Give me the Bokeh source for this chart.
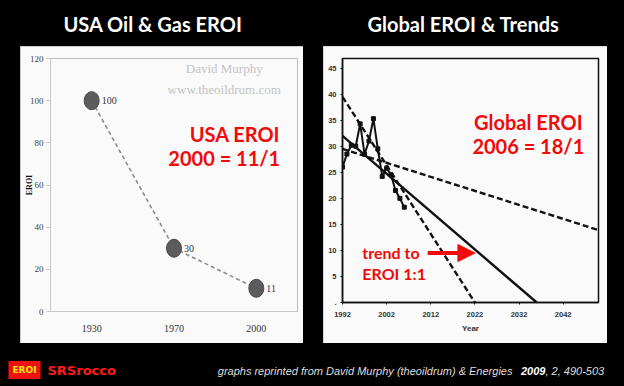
from bokeh.plotting import figure
from bokeh.layouts import column, row
from bokeh.models import Range1d, FactorRange, FixedTicker, Label, Arrow, NormalHead, Spacer
from bokeh.embed import file_html
from bokeh.resources import INLINE
from bokeh.core.properties import value

# ---------------- data ----------------
usa_years = ["1930", "1970", "2000"]
usa_eroi = [100, 30, 11]
usa_yticks = [0, 20, 40, 60, 80, 100, 120]

global_years = [1992, 1993, 1994, 1995, 1996, 1997, 1998, 1999, 2000, 2001, 2002, 2003, 2004, 2005, 2006]
global_eroi = [26.0, 28.5, 30.2, 30.0, 34.3, 28.5, 31.0, 35.3, 29.5, 24.2, 25.8, 24.5, 21.5, 20.0, 18.3]

trend_solid_x = [1992, 2036]
trend_solid_y = [32.0, 0.0]
trend_steep_x = [1992, 2022]
trend_steep_y = [39.5, 0.0]
trend_shallow_x = [1992, 2050]
trend_shallow_y = [29.5, 13.9]

global_xticks = [1992, 2002, 2012, 2022, 2032, 2042]
global_yticks = [0, 5, 10, 15, 20, 25, 30, 35, 40, 45]

RED = "#f00a0a"
PANEL = "#fafafa"

# ---------------- header ----------------
def blank(w, h):
    f = figure(width=w, height=h, x_range=Range1d(0, w), y_range=Range1d(0, h),
               toolbar_location=None, output_backend="svg",
               x_axis_location=None, y_axis_location=None, min_border=0,
               background_fill_color="black", border_fill_color="black",
               outline_line_color=None)
    f.xgrid.visible = False
    f.ygrid.visible = False
    return f

header = blank(624, 46)
for xc, t in [(152.5, "USA Oil & Gas EROI"), (463, "Global EROI & Trends")]:
    header.add_layout(Label(x=xc, y=22.5, text=t, text_align="center", text_baseline="middle",
                            text_font="Lato", text_font_style="bold", text_font_size="20px",
                            text_color="white"))

# ---------------- left chart ----------------
left = figure(width=283, height=297, frame_width=247, frame_height=253,
              x_range=FactorRange(*usa_years), y_range=Range1d(0, 120),
              toolbar_location=None, output_backend="svg",
              min_border_left=30, min_border_right=6, min_border_top=12, min_border_bottom=32,
              background_fill_color=PANEL, border_fill_color=PANEL, outline_line_color=None,
              styles={"outline": "1px solid #bdbdbd", "outline-offset": "-1px"})
left.xgrid.visible = False
left.ygrid.visible = False
left.xaxis.axis_line_color = "#c8c8c8"
left.xaxis.major_tick_line_color = None
left.xaxis.major_tick_out = 0
left.xaxis.major_tick_in = 0
left.xaxis.major_label_text_font = "Liberation Serif"
left.xaxis.major_label_text_font_size = "10px"
left.xaxis.major_label_text_color = "#333333"
left.xaxis.major_label_standoff = 13
left.yaxis.ticker = FixedTicker(ticks=usa_yticks)
left.yaxis.axis_line_color = "#c8c8c8"
left.yaxis.major_tick_line_color = "#c8c8c8"
left.yaxis.major_tick_out = 4
left.yaxis.major_tick_in = 0
left.yaxis.minor_tick_line_color = None
left.yaxis.major_label_text_font = "Liberation Serif"
left.yaxis.major_label_text_font_size = "9px"
left.yaxis.major_label_text_color = "#444444"
left.yaxis.major_label_standoff = 3
left.yaxis.axis_label = "EROI"
left.yaxis.axis_label_text_font = "Liberation Serif"
left.yaxis.axis_label_text_font_style = "bold"
left.yaxis.axis_label_text_font_size = "8px"
left.yaxis.axis_label_text_color = "#111111"
left.yaxis.axis_label_standoff = -7

left.line(x=usa_years, y=usa_eroi, line_dash="4 3", line_color="#8c8c8c", line_width=1.6)
left.ellipse(x=usa_years, y=usa_eroi, width=15, height=18, width_units="screen", height_units="screen",
             fill_color="#5c5c5c", line_color="#474747", line_width=1)
left.text(x=usa_years, y=usa_eroi, text=[str(v) for v in usa_eroi], x_offset=10,
          text_baseline="middle", text_font=value("Liberation Serif"), text_font_size="10px",
          text_color="#333333")

for y, t in [(115.3, "David Murphy"), (105.3, "www.theoildrum.com")]:
    left.add_layout(Label(x=2.11, y=y, text=t, text_align="center", text_baseline="middle",
                          text_font="Liberation Serif", text_font_size="13px", text_color="#c4c4c4"))
for y, t in [(84.4, "USA EROI"), (72.6, "2000 = 11/1")]:
    left.add_layout(Label(x=2.79, y=y, text=t, text_align="right", text_baseline="middle",
                          text_font="Lato", text_font_style="bold", text_font_size="20px",
                          text_color=RED))

# ---------------- right chart ----------------
right = figure(width=284, height=297, x_range=Range1d(1992, 2050), y_range=Range1d(0, 46.85),
               toolbar_location=None, output_backend="svg",
               min_border_left=19, min_border_right=9, min_border_top=3, min_border_bottom=41,
               background_fill_color=PANEL, border_fill_color=PANEL,
               outline_line_color="#111111", outline_line_width=1.5,
               styles={"outline": "1px solid #d0d0d0", "outline-offset": "-1px"})
right.xgrid.visible = False
right.ygrid.visible = False
for ax in (right.xaxis, right.yaxis):
    ax.axis_line_color = "#111111"
    ax.axis_line_width = 1.5
    ax.major_tick_line_color = "#111111"
    ax.major_tick_out = 2
    ax.major_tick_in = 0
    ax.minor_tick_line_color = None
    ax.major_label_text_font = "Liberation Sans"
    ax.major_label_text_font_style = "bold"
    ax.major_label_text_font_size = "7.5px"
    ax.major_label_text_color = "#333333"
right.xaxis.ticker = FixedTicker(ticks=global_xticks)
right.yaxis.ticker = FixedTicker(ticks=global_yticks)
right.yaxis.major_label_overrides = {0: "."}
right.xaxis.major_label_standoff = 7
right.yaxis.major_label_standoff = 4
right.xaxis.axis_label = "Year"
right.xaxis.axis_label_text_font = "Liberation Sans"
right.xaxis.axis_label_text_font_style = "bold"
right.xaxis.axis_label_text_font_size = "8px"
right.xaxis.axis_label_text_color = "#333333"
right.xaxis.axis_label_standoff = 4

right.line(x=trend_shallow_x, y=trend_shallow_y, line_color="#111111", line_width=2.4, line_dash="6 3")
right.line(x=trend_steep_x, y=trend_steep_y, line_color="#111111", line_width=2.4, line_dash="6 3")
right.line(x=trend_solid_x, y=trend_solid_y, line_color="#111111", line_width=2.4)
right.line(x=global_years, y=global_eroi, line_color="#111111", line_width=2)
right.scatter(x=global_years, y=global_eroi, marker="square", size=4, fill_color="#111111", line_color="#111111")

for y, t in [(34.6, "Global EROI"), (30.0, "2006 = 18/1")]:
    right.add_layout(Label(x=2034.1, y=y, text=t, text_align="center", text_baseline="middle",
                           text_font="Lato", text_font_style="bold", text_font_size="20px",
                           text_color=RED))
for y, t in [(9.6, "trend to"), (5.6, "EROI 1:1")]:
    right.add_layout(Label(x=1996.5, y=y, text=t, text_align="left", text_baseline="middle",
                           text_font="Lato", text_font_style="bold", text_font_size="16px",
                           text_color=RED))
right.add_layout(Arrow(x_start=2011.3, y_start=9.5, x_end=2022.0, y_end=9.5,
                       line_color=RED, line_width=4,
                       end=NormalHead(size=17, fill_color=RED, line_color=RED)))

# ---------------- footer ----------------
footer = blank(624, 43)
footer.add_layout(Label(x=24, y=16.5, text="EROI", text_align="center", text_baseline="middle",
                        text_font="DejaVu Sans", text_font_style="bold", text_font_size="9px",
                        text_color="#ffe800", background_fill_color="#ee1111",
                        padding=4))
footer.add_layout(Label(x=47, y=16.5, text="SRSrocco", text_align="left", text_baseline="middle",
                        text_font="DejaVu Sans", text_font_style="bold", text_font_size="13px",
                        text_color="#ff1a1a"))
footer.add_layout(Label(x=515, y=16, text="graphs reprinted from  David Murphy (theoildrum) & Energies",
                        text_align="right", text_baseline="middle", text_font="Liberation Sans",
                        text_font_style="italic", text_font_size="11px", text_color="#dddddd"))
footer.add_layout(Label(x=520.5, y=16, text="2009", text_align="left", text_baseline="middle",
                        text_font="Liberation Sans", text_font_style="bold italic",
                        text_font_size="11px", text_color="#ffffff"))
footer.add_layout(Label(x=545, y=16, text=", 2, 490-503", text_align="left", text_baseline="middle",
                        text_font="Liberation Sans", text_font_style="italic",
                        text_font_size="11px", text_color="#dddddd"))

middle = row(Spacer(width=20, height=297), left, Spacer(width=20, height=297), right,
             Spacer(width=17, height=297), styles={"background-color": "black"})
root = column(header, middle, footer, styles={"background-color": "black"})

TEMPLATE = """
{% block preamble %}
<style>html, body { background: #000000; }</style>
{% endblock %}
"""

open("out.html", "w").write(file_html(root, INLINE, template=TEMPLATE))
